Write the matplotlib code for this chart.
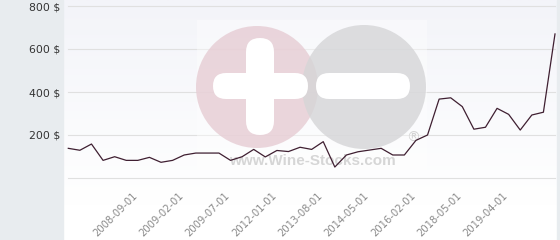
import numpy as np
import matplotlib.pyplot as plt
import matplotlib.transforms as mtransforms
from matplotlib.patches import Rectangle, Circle, FancyBboxPatch

# price history (one point per listing date, only some dates shown as labels)
prices = [138, 129, 158, 82, 99, 82, 82, 96, 73, 82,
          107, 116, 116, 116, 82, 99, 133, 98, 128, 123,
          143, 133, 169, 51, 107, 122, 130, 138, 107, 107,
          175, 200, 367, 373, 332, 227, 236, 324, 296, 223,
          293, 306, 670]
tick_idx = [6, 10, 14, 18, 22, 26, 30, 34, 38]
tick_labels = ['2008-09-01', '2009-02-01', '2009-07-01', '2012-01-01', '2013-08-01',
               '2014-05-01', '2016-02-01', '2018-05-01', '2019-04-01']
y_ticks = [0, 200, 400, 600, 800]
y_labels = ['', '200 $', '400 $', '600 $', '800 $']

W, H = 560, 240
fig = plt.figure(figsize=(W / 100, H / 100), dpi=100)
fig.patch.set_facecolor('white')

# pixel coords (origin top-left) -> figure
px = mtransforms.Affine2D().scale(1 / W, -1 / H).translate(0, 1) + fig.transFigure

# grey side panels
fig.patches.append(Rectangle((0, 0), 63, 240, transform=px, color='#e8ecef', zorder=0))
fig.patches.append(Rectangle((557, 0), 3, 240, transform=px, color='#e8ecef', zorder=0))

# gradient plot background
bg = fig.add_axes([63 / W, 0, (557 - 63) / W, 1], zorder=0)
grad = np.linspace(0, 1, 100).reshape(-1, 1)
top = np.array([243, 244, 249]) / 255
bot = np.array([255, 255, 255]) / 255
img = top + (bot - top) * np.clip(grad / 0.85, 0, 1)[:, :, None]
bg.imshow(img.reshape(100, 1, 3), aspect='auto', extent=[0, 1, 0, 1])
bg.axis('off')

# main axes
x0, x1, y0, y1 = 68.3, 555, 6, 178
ax = fig.add_axes([x0 / W, 1 - y1 / H, (x1 - x0) / W, (y1 - y0) / H], zorder=1)
ax.set_facecolor('none')
x = np.arange(len(prices))
ax.set_xlim(0, len(prices) - 1)
ax.set_ylim(0, 800)

ax.set_yticks(y_ticks)
ax.set_yticklabels(y_labels, fontsize=7.8, color='#333333')
# labels sit a little left of their point (rotated, right-anchored)
ax.set_xticks([i - 0.5 for i in tick_idx])
ax.set_xticklabels(tick_labels, rotation=45, ha='right', rotation_mode='anchor',
                   fontsize=7.2, color='#8a8a8a')
ax.tick_params(axis='y', length=0, pad=6)
ax.tick_params(axis='x', length=0, pad=9)
ax.grid(axis='y', color='#e0e0e0', lw=0.8)
for gl in ax.get_ygridlines():
    gl.set_clip_on(False)
ax.set_axisbelow(True)
for s in ax.spines.values():
    s.set_visible(False)

# watermark
wm = dict(transform=px, clip_on=False, zorder=2)
ax.add_patch(Rectangle((197, 20), 230, 153, fc='white', alpha=0.4, ec='none', **wm))
ax.add_patch(Circle((257, 87), 61, fc='#e6ccd3', ec='none', alpha=0.8, **wm))
ax.add_patch(Circle((364, 87), 62, fc='#d5d5d7', ec='none', alpha=0.8, **wm))
for (bx, by, bw, bh) in [(213, 73, 95, 26), (246, 38, 28, 97), (316, 73, 94, 26)]:
    r = min(bw, bh) / 2
    ax.add_patch(FancyBboxPatch((bx + r, by + r), bw - 2 * r, bh - 2 * r,
                                boxstyle='round,pad=%f' % r, fc='white', ec='none', **wm))
ax.text(312, 161, 'www.Wine-Stocks.com', transform=px, ha='center', va='center',
        fontsize=11, fontweight='bold', family='Liberation Sans', color='#d6d6d6', zorder=2)
ax.text(413, 138, '®', transform=px, ha='center', va='center',
        fontsize=10, color='#d3d3d3', zorder=2)

ax.plot(x, prices, color='#3f1f31', lw=0.9, zorder=3, clip_on=False)

fig.savefig('out.png', dpi=100)
